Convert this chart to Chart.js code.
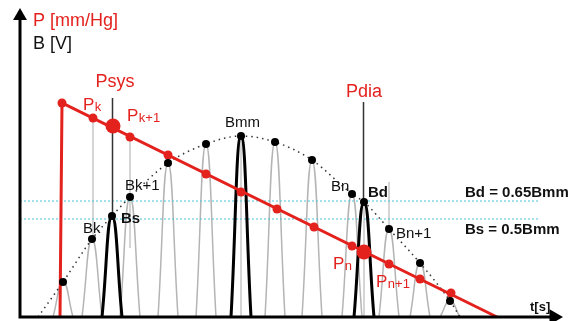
<!DOCTYPE html>
<html>
<head>
<meta charset="utf-8">
<script src="https://cdn.jsdelivr.net/npm/chart.js@4.4.0/dist/chart.umd.min.js"></script>
<style>
  html, body { margin: 0; padding: 0; background: #fff; }
  #wrap { width: 576px; height: 321px; }
</style>
</head>
<body>
<div id="wrap"><canvas id="grafico" width="576" height="321"></canvas></div>
<script>
// gray pulses (oscillation amplitude B) at each cuff step
const pulseT = [63, 92, 130, 168, 206, 275, 312, 352, 389, 420, 450];
const pulseB = [35, 78, 120, 154, 173, 175, 157, 123, 88, 54, 16];
// highlighted pulses: Bs, Bmm, Bd
const keyT = [112, 241, 364];
const keyB = [101, 181, 115];
// cuff pressure samples
const cuffT = [62, 93, 130, 168, 206, 241, 277, 314, 352, 389, 420, 451];
const cuffP = [214, 199, 180, 162, 143, 125, 108, 90, 71, 53, 38, 24];
// Psys / Pdia points
const markT = [113, 364];
const markP = [191, 65];
// pressure ramp
const rampT = [60, 62, 497];
const rampP = [0, 214, 0];
// envelope of the pulses
const envT = [38, 63, 92, 112, 130, 168, 206, 241, 275, 312, 352, 364, 389, 420, 450, 460];
const envB = [0, 35, 78, 101, 120, 154, 173, 181, 175, 157, 123, 115, 88, 54, 16, 0];
// thresholds Bd = 0.65Bmm, Bs = 0.5Bmm
const thresholdB = [116, 98];
const thresholdT = [20, 540];
// thin guide lines
const guideT = [93, 130, 241, 389, 364];
const guideTop = [199, 180, 181, 135, 115];
const guideBottom = [78, 69, 0, 88, 0];
// Psys / Pdia marker lines
const markerTop = [219, 215];

const RED = '#e3211d';
const HALF = 10;

function arches(ts, hs) {
    const pts = [];
    ts.forEach((t, i) => {
        pts.push({ x: t - HALF, y: 0 }, { x: t, y: hs[i] }, { x: t + HALF, y: 0 }, { x: t + HALF, y: null });
    });
    return pts;
}

function segments(ts, tops, bottoms) {
    const pts = [];
    ts.forEach((t, i) => {
        pts.push({ x: t, y: tops[i] }, { x: t, y: bottoms[i] }, { x: t, y: null });
    });
    return pts;
}

function pairs(xs, ys) {
    return xs.map((x, i) => ({ x: x, y: ys[i] }));
}

const thresholdPts = [];
thresholdB.forEach(b => {
    thresholdPts.push({ x: thresholdT[0], y: b }, { x: thresholdT[1], y: b }, { x: thresholdT[1], y: null });
});

const FONT = '"Liberation Sans", Arial, sans-serif';
const textos = [
    { text: 'P [mm/Hg]', x: 33, y: 291, color: RED, size: 18 },
    { text: 'B [V]', x: 33, y: 268, color: '#111', size: 18 },
    { text: 'Psys', x: 115, y: 230, color: RED, size: 18, align: 'center' },
    { text: 'Pdia', x: 364, y: 220, color: RED, size: 18, align: 'center' },
    { text: 'P', sub: 'k', x: 83, y: 207, color: RED, size: 17 },
    { text: 'P', sub: 'k+1', x: 127, y: 196, color: RED, size: 17 },
    { text: 'P', sub: 'n', x: 333, y: 48, color: RED, size: 17 },
    { text: 'P', sub: 'n+1', x: 376, y: 30, color: RED, size: 17 },
    { text: 'Bmm', x: 225, y: 190, color: '#111', size: 15 },
    { text: 'Bk+1', x: 125, y: 127, color: '#111', size: 15 },
    { text: 'Bs', x: 121, y: 94, color: '#111', size: 15, bold: true },
    { text: 'Bk', x: 83, y: 84, color: '#111', size: 15 },
    { text: 'Bn', x: 331, y: 126, color: '#111', size: 15 },
    { text: 'Bd', x: 368, y: 120, color: '#111', size: 15, bold: true },
    { text: 'Bn+1', x: 396, y: 79, color: '#111', size: 15 },
    { text: 'Bd = 0.65Bmm', x: 465, y: 120, color: '#111', size: 15, bold: true },
    { text: 'Bs = 0.5Bmm', x: 465, y: 83, color: '#111', size: 15, bold: true },
    { text: 't[s]', x: 530, y: 6, color: '#111', size: 13, bold: true }
];

const rotulos = {
    id: 'rotulos',
    afterDatasetsDraw(chart) {
        const ctx = chart.ctx;
        const sx = chart.scales.x;
        const sy = chart.scales.y;
        ctx.save();
        ctx.textBaseline = 'alphabetic';
        textos.forEach(t => {
            const px = sx.getPixelForValue(t.x);
            const py = sy.getPixelForValue(t.y);
            ctx.fillStyle = t.color;
            ctx.font = (t.bold ? 'bold ' : '') + t.size + 'px ' + FONT;
            ctx.textAlign = t.align || 'left';
            ctx.fillText(t.text, px, py);
            if (t.sub) {
                const w = ctx.measureText(t.text).width;
                ctx.font = '13px ' + FONT;
                ctx.textAlign = 'left';
                ctx.fillText(t.sub, px + w + 0.5, py + 1);
            }
        });
        ctx.restore();
    }
};

const canvas_grafico = document.getElementById('grafico');
const ctx = canvas_grafico.getContext('2d');

new Chart(ctx, {
    type: 'scatter',
    data: {
        datasets: [
            {
                label: 'arrows',
                data: [{ x: 20, y: 301 }, { x: 554, y: 0 }],
                pointStyle: 'triangle',
                pointRadius: [8, 9],
                rotation: [0, 90],
                backgroundColor: '#000',
                borderColor: '#000',
                borderWidth: 0
            },
            {
                label: 'axes',
                data: [{ x: 20, y: 300 }, { x: 20, y: 0 }, { x: 550, y: 0 }],
                showLine: true,
                borderColor: '#000',
                borderWidth: 3,
                pointRadius: 0,
                borderJoinStyle: 'miter'
            },
            {
                label: 'B peaks',
                data: pairs(pulseT.concat(keyT), pulseB.concat(keyB)),
                backgroundColor: '#000',
                borderWidth: 0,
                pointRadius: 4
            },
            {
                label: 'Psys/Pdia',
                data: pairs(markT, markP),
                backgroundColor: RED,
                borderWidth: 0,
                pointRadius: 7.5
            },
            {
                label: 'P samples',
                data: pairs(cuffT, cuffP),
                backgroundColor: RED,
                borderWidth: 0,
                pointRadius: 4.5
            },
            {
                label: 'P ramp',
                data: pairs(rampT, rampP),
                showLine: true,
                borderColor: RED,
                borderWidth: 3,
                pointRadius: 0
            },
            {
                label: 'markers',
                data: segments(markT.map(t => t - 0.5), markerTop, keyB.filter((b, i) => i !== 1)),
                showLine: true,
                borderColor: '#333',
                borderWidth: 1.5,
                pointRadius: 0
            },
            {
                label: 'key pulses',
                data: arches(keyT, keyB),
                showLine: true,
                borderColor: '#000',
                borderWidth: 3,
                pointRadius: 0,
                tension: 0.5
            },
            {
                label: 'envelope',
                data: pairs(envT, envB),
                showLine: true,
                borderColor: '#333',
                borderWidth: 1.5,
                borderDash: [1.5, 4],
                pointRadius: 0,
                cubicInterpolationMode: 'monotone'
            },
            {
                label: 'thresholds',
                data: thresholdPts,
                showLine: true,
                borderColor: '#4cc3dc',
                borderWidth: 1,
                borderDash: [2, 2],
                pointRadius: 0
            },
            {
                label: 'guides',
                data: segments(guideT, guideTop, guideBottom),
                showLine: true,
                borderColor: '#c8c8c8',
                borderWidth: 1.5,
                pointRadius: 0
            },
            {
                label: 'pulses',
                data: arches(pulseT, pulseB),
                showLine: true,
                borderColor: '#b4b4b4',
                borderWidth: 1.5,
                pointRadius: 0,
                tension: 0.5
            }
        ]
    },
    options: {
        responsive: false,
        animation: false,
        events: [],
        layout: { padding: 0, autoPadding: false },
        plugins: {
            legend: { display: false },
            tooltip: { enabled: false }
        },
        scales: {
            x: { type: 'linear', min: 0, max: 576, display: false },
            y: { type: 'linear', min: -4, max: 317, display: false }
        }
    },
    plugins: [rotulos]
});
</script>
</body>
</html>
